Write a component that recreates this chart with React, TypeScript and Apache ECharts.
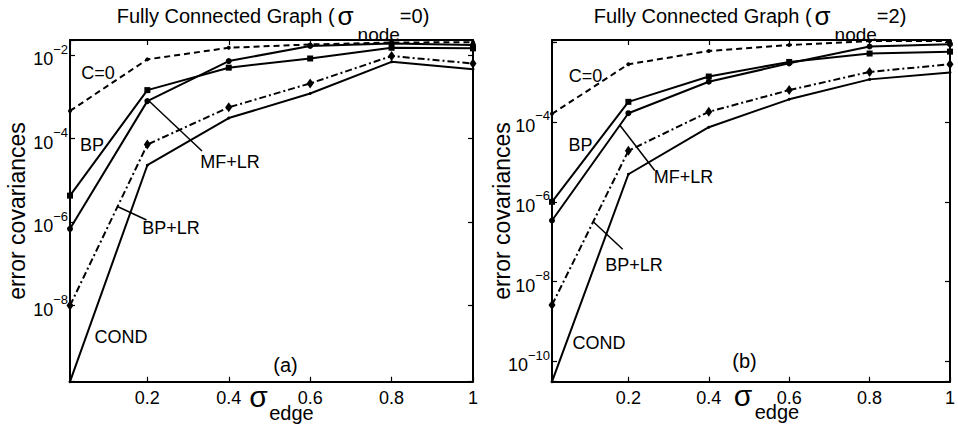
import React, { useEffect, useRef } from 'react';
import * as echarts from 'echarts';

// x values (sigma_edge)
const sigmaEdge = [0.01, 0.2, 0.4, 0.6, 0.8, 1];
const xTickLabels = ['0.2', '0.4', '0.6', '0.8', '1'];

// Panel (a): sigma_node = 0
const aC0 = [4.6e-4, 7.9e-3, 1.5e-2, 1.8e-2, 2.0e-2, 2.04e-2];
const aBP = [4.3e-6, 1.45e-3, 5.0e-3, 8.3e-3, 1.5e-2, 1.45e-2];
const aMFLR = [6.9e-7, 7.9e-4, 7.2e-3, 1.66e-2, 1.9e-2, 1.74e-2];
const aBPLR = [1.0e-8, 7.2e-5, 5.6e-4, 2.1e-3, 9.5e-3, 6.3e-3];
const aCOND = [1.5e-10, 2.3e-5, 3.1e-4, 1.2e-3, 6.9e-3, 4.6e-3];
const aYRange = [1.5e-10, 2.3e-2];
const aYTickExp = [-2, -4, -6, -8];

// Panel (b): sigma_node = 2
const bC0 = [1.6e-4, 2.8e-3, 6.0e-3, 8.5e-3, 1.07e-2, 1.07e-2];
const bBP = [1.0e-6, 3.2e-4, 1.38e-3, 3.2e-3, 5.2e-3, 5.8e-3];
const bMFLR = [3.4e-7, 1.66e-4, 1.02e-3, 2.95e-3, 7.8e-3, 8.9e-3];
const bBPLR = [2.6e-9, 1.9e-5, 1.8e-4, 6.3e-4, 1.8e-3, 2.8e-3];
const bCOND = [3.1e-11, 4.9e-6, 7.4e-5, 3.7e-4, 1.17e-3, 1.74e-3];
const bYRange = [3.1e-11, 1.135e-2];
const bYTickExp = [-4, -6, -8, -10];

const FONT = '"Liberation Sans", Arial, Helvetica, sans-serif';

function buildOption() {
  const grids = [
    { left: 70, top: 40, width: 403, height: 341.7 },
    { left: 552, top: 40, width: 402, height: 341.7 },
  ];
  const axisLine = { show: true, onZero: false, lineStyle: { color: '#000', width: 2 } };
  const axisTick = { show: true, inside: true, length: 5, lineStyle: { color: '#000', width: 1.2 } };

  const xAxis: any[] = [];
  const yAxis: any[] = [];
  const ranges = [aYRange, bYRange];
  const tickExps = [aYTickExp, bYTickExp];
  for (let g = 0; g < 2; g++) {
    xAxis.push({
      type: 'value', gridIndex: g, position: 'bottom', min: sigmaEdge[0], max: 1,
      axisLine, axisTick, splitLine: { show: false },
      axisLabel: {
        show: true, margin: 8, color: '#000', fontSize: 18, lineHeight: 16, fontFamily: FONT,
        formatter: (v: number) => {
          const lab = xTickLabels.find((t) => Math.abs(parseFloat(t) - v) < 1e-6);
          return lab || '';
        },
      },
    });
    xAxis.push({
      type: 'value', gridIndex: g, position: 'top', min: sigmaEdge[0], max: 1,
      axisLine, axisTick, splitLine: { show: false }, axisLabel: { show: false },
    });
    const lo = Math.log10(ranges[g][0]);
    const hi = Math.log10(ranges[g][1]);
    const exps = tickExps[g];
    yAxis.push({
      type: 'value', gridIndex: g, position: 'left', min: lo, max: hi,
      axisLine, axisTick, splitLine: { show: false },
      axisLabel: {
        show: true, margin: 2, color: '#000', fontFamily: FONT,
        formatter: (v: number) => {
          const r = Math.round(v);
          if (Math.abs(v - r) > 1e-6 || exps.indexOf(r) < 0) return '';
          return '{b|10}{s|\u2212' + (-r) + '}';
        },
        rich: {
          b: { fontSize: 18, lineHeight: 18, fontFamily: FONT, color: '#000', padding: [8, 0, 0, 0] },
          s: { fontSize: 13, lineHeight: 13, fontFamily: FONT, color: '#000', padding: [0, 0, 12, 0] },
        },
      },
    });
    yAxis.push({
      type: 'value', gridIndex: g, position: 'right', min: lo, max: hi,
      axisLine, axisTick, splitLine: { show: false }, axisLabel: { show: false },
    });
  }

  const mk = (name: string, vals: number[], g: number, symbol: string, symbolSize: any, type: any) => ({
    type: 'line', name, xAxisIndex: g * 2, yAxisIndex: g * 2,
    data: sigmaEdge.map((x, i) => [x, Math.log10(vals[i])]),
    symbol, symbolSize, showSymbol: true, clip: false, silent: true,
    lineStyle: { color: '#000', width: 2, type, cap: 'butt' },
    itemStyle: { color: '#000' },
  });

  const dash = [6, 4];
  const dashDot = [7, 3, 2, 3];
  const series: any[] = [];
  const panels = [
    [aC0, aBP, aMFLR, aBPLR, aCOND],
    [bC0, bBP, bMFLR, bBPLR, bCOND],
  ];
  panels.forEach((p, g) => {
    series.push(mk('C=0', p[0], g, 'circle', 4, dash));
    series.push(mk('BP', p[1], g, 'rect', 6, 'solid'));
    series.push(mk('MF+LR', p[2], g, 'circle', 6, 'solid'));
    series.push(mk('BP+LR', p[3], g, 'diamond', [7, 10], dashDot));
    series.push(mk('COND', p[4], g, 'circle', 3, 'solid'));
  });

  const txt = (text: string, x: number, y: number, fontSize = 18, extra: any = {}) => ({
    type: 'text', x, y, silent: true,
    style: { text, fontSize, fontFamily: FONT, fill: '#000', align: 'center', verticalAlign: 'middle', ...extra },
  });
  const ln = (x1: number, y1: number, x2: number, y2: number) => ({
    type: 'line', silent: true, shape: { x1, y1, x2, y2 }, style: { stroke: '#000', lineWidth: 1.5 },
  });
  const titleRich = {
    a: { fontSize: 20, lineHeight: 20, fontFamily: FONT, fill: '#000' },
    g: { fontSize: 26, lineHeight: 26, fontFamily: FONT, fill: '#000', padding: [0, 4, 0, 3] },
    s: { fontSize: 19, lineHeight: 19, fontFamily: FONT, fill: '#000', padding: [36, 0, 0, 0] },
  };
  const title = (nodeVal: string, x: number) => ({
    type: 'text', x, y: 16.3, silent: true,
    style: {
      text: '{a|Fully Connected Graph (}{g|\u03c3}{s|node}{a|=' + nodeVal + ')}',
      rich: titleRich, align: 'center', verticalAlign: 'middle', fill: '#000', fontFamily: FONT,
    },
  });

  const graphic: any[] = [
    title('0', 273),
    title('2', 750),
    txt('error covariances', 17, 211, 23, {}),
    txt('error covariances', 502, 211, 23, {}),
    // x-axis names
    txt('\u03c3', 258.5, 396.5, 30),
    txt('edge', 291.5, 413, 20, { lineHeight: 16 }),
    txt('\u03c3', 743, 395.5, 30),
    txt('edge', 777, 412, 20, { lineHeight: 16 }),
    // panel labels
    txt('(a)', 285.5, 364.5, 20),
    txt('(b)', 744.5, 360.5, 20),
    // curve labels, panel a
    txt('C=0', 98, 72.5),
    txt('BP', 92, 145),
    txt('MF+LR', 230, 161.5),
    txt('BP+LR', 171, 228),
    txt('COND', 121, 337),
    ln(149, 101, 202, 151),
    ln(118, 206.7, 146.5, 220),
    // curve labels, panel b
    txt('C=0', 585.5, 75.5),
    txt('BP', 580.5, 145),
    txt('MF+LR', 683.5, 176.5),
    txt('BP+LR', 634, 265),
    txt('COND', 599, 343),
    ln(619.7, 125, 654.7, 170.5),
    ln(593.3, 221.7, 622.7, 249.3),
  ];
  // rotate y-axis titles
  graphic[2].rotation = Math.PI / 2;
  graphic[3].rotation = Math.PI / 2;

  return {
    animation: false,
    backgroundColor: '#fff',
    grid: grids,
    xAxis,
    yAxis,
    series,
    graphic,
  };
}

export default function App() {
  const ref = useRef<HTMLDivElement>(null);
  useEffect(() => {
    if (!ref.current) return;
    const chart = echarts.init(ref.current, undefined, { renderer: 'svg' });
    chart.setOption(buildOption() as any);
    return () => chart.dispose();
  }, []);
  return (
    <div
      ref={ref}
      style={{ position: 'absolute', left: 0, top: 0, width: 958, height: 431, background: '#fff' }}
    />
  );
}
